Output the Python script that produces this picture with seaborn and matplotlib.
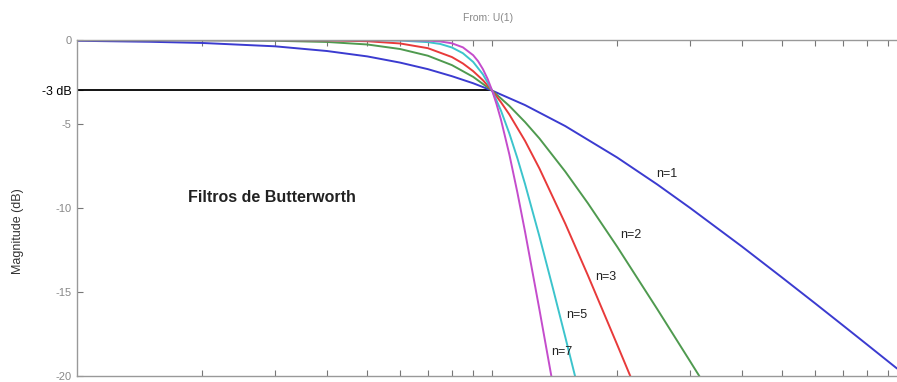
import matplotlib
matplotlib.use("Agg")
import matplotlib.pyplot as plt
import seaborn as sns
import pandas as pd
from matplotlib.ticker import FixedLocator, NullFormatter

# Butterworth magnitude responses (normalized frequency, dB)
w1 = [0.1, 0.15, 0.2, 0.3, 0.4, 0.5, 0.6, 0.7, 0.8, 0.9, 1.0, 1.2, 1.5, 2.0, 2.5, 3.0, 4.0, 5.0, 6.0, 7.0, 8.0, 9.45]
m1 = [-0.04, -0.10, -0.17, -0.37, -0.65, -0.97, -1.34, -1.73, -2.15, -2.57, -3.01, -3.87, -5.12, -6.99, -8.60, -10.0, -12.3, -14.15, -15.68, -16.99, -18.13, -19.56]

w2 = [0.1, 0.2, 0.3, 0.4, 0.5, 0.6, 0.7, 0.8, 0.9, 1.0, 1.1, 1.2, 1.3, 1.5, 1.7, 2.0, 2.5, 3.0, 3.2]
m2 = [0.0, -0.01, -0.04, -0.11, -0.26, -0.53, -0.93, -1.49, -2.19, -3.01, -3.92, -4.88, -5.86, -7.83, -9.71, -12.30, -16.03, -19.14, -20.25]

w3 = [0.1, 0.3, 0.4, 0.5, 0.6, 0.7, 0.8, 0.85, 0.9, 0.95, 1.0, 1.05, 1.1, 1.2, 1.3, 1.5, 1.7, 2.0, 2.2]
m3 = [0.0, -0.003, -0.018, -0.067, -0.20, -0.48, -1.01, -1.39, -1.85, -2.39, -3.01, -3.70, -4.43, -6.00, -7.65, -10.93, -14.00, -18.13, -20.58]

w5 = [0.1, 0.5, 0.6, 0.7, 0.75, 0.8, 0.85, 0.9, 0.95, 1.0, 1.05, 1.1, 1.15, 1.2, 1.3, 1.4, 1.5, 1.6]
m5 = [0.0, -0.004, -0.026, -0.12, -0.23, -0.44, -0.78, -1.30, -2.04, -3.01, -4.20, -5.56, -7.03, -8.57, -11.70, -14.76, -17.68, -20.45]

w7 = [0.1, 0.6, 0.7, 0.75, 0.8, 0.85, 0.9, 0.925, 0.95, 0.975, 1.0, 1.025, 1.05, 1.1, 1.15, 1.2, 1.3, 1.4]
m7 = [0.0, -0.003, -0.03, -0.08, -0.19, -0.43, -0.90, -1.26, -1.73, -2.31, -3.01, -3.83, -4.74, -6.81, -9.07, -11.41, -16.06, -20.5]

orders = ["n=1", "n=2", "n=3", "n=5", "n=7"]
colors = ["#3b3bd0", "#4f9a4f", "#e83a3a", "#3cc4cc", "#c44ccc"]

# label anchors (freq, dB)
label_w = [2.63, 2.16, 1.88, 1.60, 1.47]
label_db = [-8.0, -11.6, -14.1, -16.4, -18.6]

cutoff_w = 1.0
cutoff_db = -3

ytick_vals = [0, -3, -5, -10, -15, -20]
ytick_labels = ["0", "-3 dB", "-5", "-10", "-15", "-20"]
xtick_vals = [0.2, 0.3, 0.4, 0.5, 0.6, 0.7, 0.8, 0.9, 1, 2, 3, 4, 5, 6, 7, 8, 9]

frames = []
for name, w, m in zip(orders, [w1, w2, w3, w5, w7], [m1, m2, m3, m5, m7]):
    frames.append(pd.DataFrame({"w": w, "mag": m, "n": name}))
df = pd.concat(frames, ignore_index=True)

sns.set_style("white")
plt.rcParams["font.family"] = ["Liberation Sans", "DejaVu Sans"]

fig = plt.figure(figsize=(8.97, 3.82), dpi=100)
ax = fig.add_axes([0.086, 0.016, 0.914, 0.879])

ax.hlines(cutoff_db, 0.1, cutoff_w, color="black", lw=1.3, zorder=1)

sns.lineplot(data=df, x="w", y="mag", hue="n", palette=dict(zip(orders, colors)),
             sort=False, legend=False, lw=1.4, ax=ax)

ax.set_xscale("log")
ax.set_xlim(0.1, 9.45)
ax.set_ylim(-20, 0)

ax.xaxis.set_major_locator(FixedLocator(xtick_vals))
ax.xaxis.set_minor_locator(FixedLocator([]))
ax.xaxis.set_major_formatter(NullFormatter())
ax.set_yticks(ytick_vals)
ax.set_yticklabels(ytick_labels)
ax.tick_params(axis="both", direction="in", length=4, width=0.8, color="#777777",
               top=True, bottom=True, left=True, right=False,
               labelsize=8, labelcolor="#888888", pad=4)
for lbl in ax.get_yticklabels():
    if lbl.get_text() == "-3 dB":
        lbl.set_color("black")
        lbl.set_fontsize(9)

ax.set_xlabel("")
ax.set_ylabel("Magnitude (dB)", fontsize=9, color="#333333")
ax.yaxis.set_label_coords(-0.065, 0.43)

for sp in ["left", "top", "bottom"]:
    ax.spines[sp].set_color("#999999")
    ax.spines[sp].set_linewidth(1.0)
ax.spines["right"].set_visible(False)

for txt, x, y in zip(orders, label_w, label_db):
    ax.text(x, y, txt, fontsize=9, color="#222222", ha="center", va="center")

ax.text(0.185, -9.4, "Filtros de Butterworth", fontsize=11.5, fontweight="bold",
        color="#222222", ha="left", va="center")

fig.text(488 / 897, 1 - 18 / 382, "From: U(1)", fontsize=7.5, color="#888888",
         ha="center", va="center")

fig.savefig("out.png", dpi=100)
